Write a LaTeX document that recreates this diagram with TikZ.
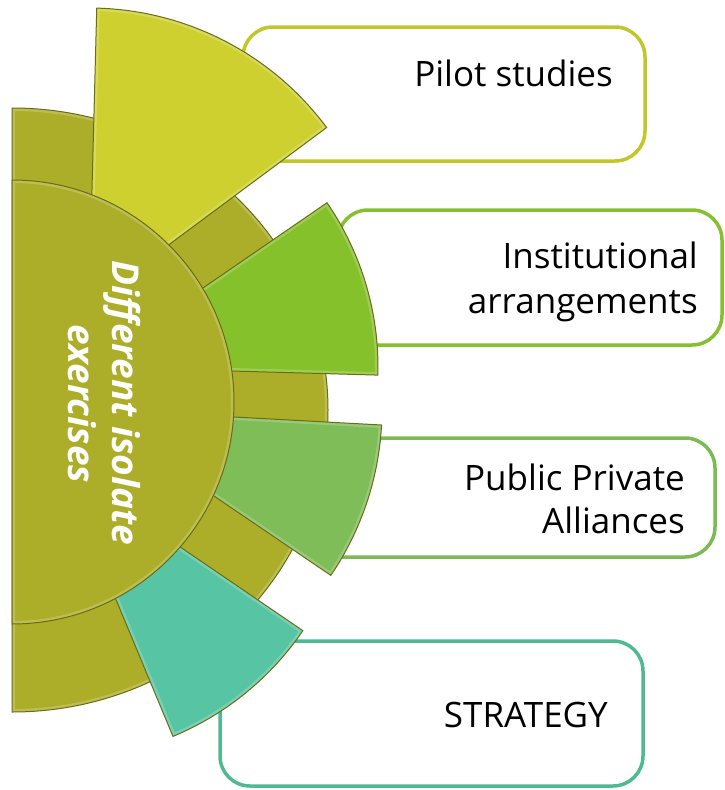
\documentclass[tikz,border=0pt]{standalone}
\usepackage{fontspec}
\setmainfont{Open Sans}
\definecolor{olive}{HTML}{ACAE29}
\definecolor{olivedk}{HTML}{6A6C16}
\definecolor{secA}{HTML}{CDD02F}
\definecolor{secB}{HTML}{85C12A}
\definecolor{secC}{HTML}{7EBD57}
\definecolor{secD}{HTML}{57C5A3}
\definecolor{boxA}{HTML}{C3C62B}
\definecolor{boxB}{HTML}{86C030}
\definecolor{boxC}{HTML}{7CBA55}
\definecolor{boxD}{HTML}{4FBA92}
\newcommand\bevshape[3]{%
  \fill[#1] #3;
  \begin{scope}\clip #3; \draw[white,opacity=.2,line width=6pt] #3; \end{scope}
  \draw[#2,line width=1pt] #3;
}
\begin{document}
\begin{tikzpicture}[x=1pt,y=1pt,
  lbox/.style={draw,fill=white,rounded corners=30pt,line width=3.5pt,inner sep=0pt},
  lbl/.style={font=\fontsize{35}{42}\selectfont,anchor=base east,inner sep=0pt,text=black},
  ctr/.style={font=\fontsize{37}{44}\selectfont\bfseries\itshape,text=white,rotate=-90,anchor=base,inner sep=0pt}]
\useasboundingbox (0,0) rectangle (725,-790);
% label boxes
\node[lbox,draw=boxA,minimum width=402pt,minimum height=134pt] (b1) at (444,-94) {};
\node[lbox,draw=boxB,minimum width=384pt,minimum height=135pt] (b2) at (530,-277.5) {};
\node[lbox,draw=boxC,minimum width=415pt,minimum height=119pt] (b3) at (507.5,-497.5) {};
\node[lbox,draw=boxD,minimum width=423pt,minimum height=145pt] (b4) at (431.5,-713.5) {};
% outer half disk
\bevshape{olive}{olivedk}{(12,-108) arc[start angle=90,end angle=-90,x radius=316,y radius=302] -- cycle}
% sectors
\bevshape{secA}{olivedk}{(89,-304) -- ++(36.6:296) arc[start angle=36.6,end angle=88.5,radius=296] -- cycle}
\bevshape{secB}{olivedk}{(88,-367) -- ++(-1.6:290) arc[start angle=-1.6,end angle=34.5,radius=290] -- cycle}
\bevshape{secC}{olivedk}{(86,-409) -- ++(-34.2:296) arc[start angle=-34.2,end angle=-3.1,radius=296] -- cycle}
\bevshape{secD}{olivedk}{(60,-465) -- ++(-67.4:294) arc[start angle=-67.4,end angle=-34.3,radius=294] -- cycle}
% inner half disk
\bevshape{olive}{olivedk}{(12,-180) arc[start angle=90,end angle=-90,radius=222] -- cycle}
% centre text
\node[ctr] (c1) at (112,-403) {Different isolate};
\node[ctr] (c2) at (68,-404) {exercises};
% labels
\node[lbl] (t1) at (613,-86) {Pilot studies};
\node[lbl] (t2a) at (698,-268) {Institutional};
\node[lbl] (t2b) at (698,-313) {arrangements};
\node[lbl] (t3a) at (685,-490) {Public Private};
\node[lbl] (t3b) at (685,-533) {Alliances};
\node[lbl] (t4) at (608,-727) {STRATEGY};
\end{tikzpicture}
\end{document}
